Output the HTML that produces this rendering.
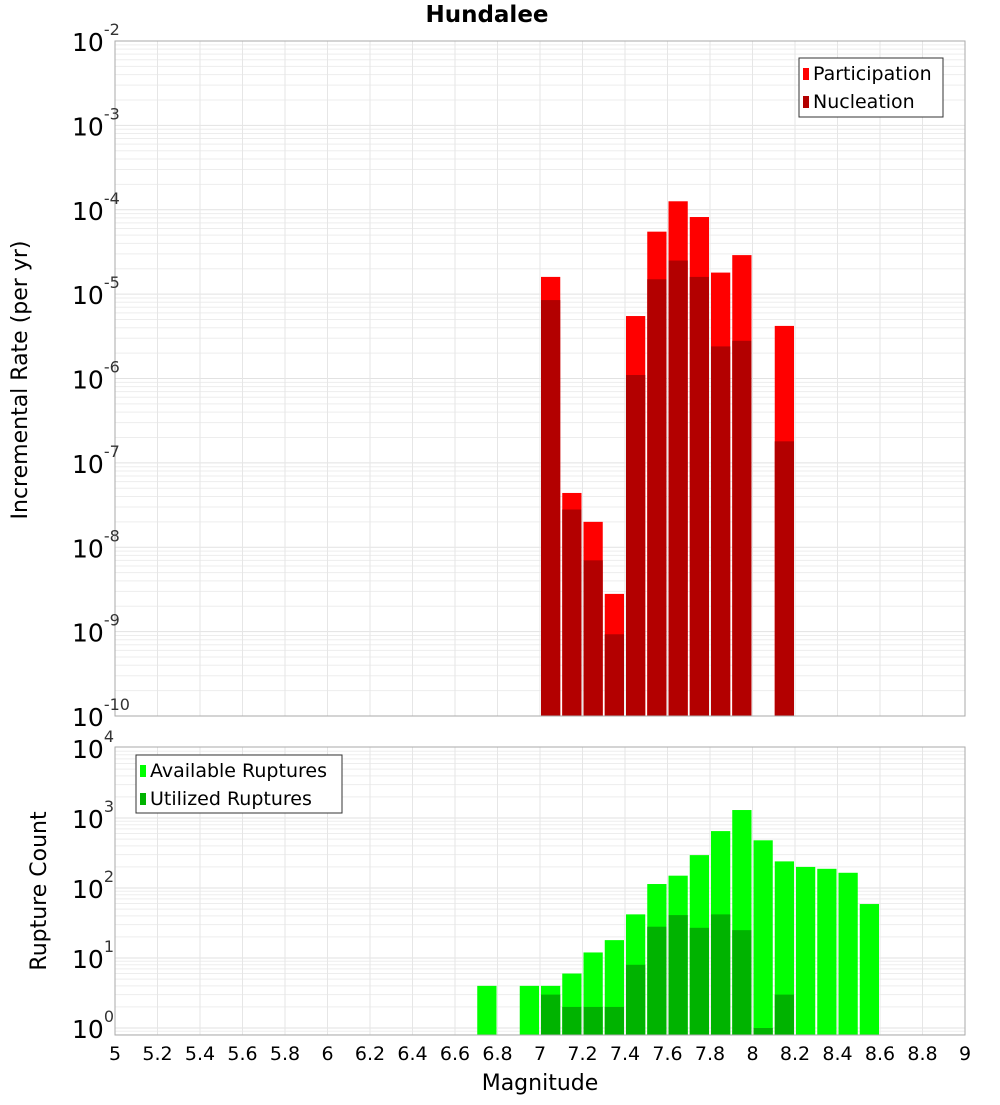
<!DOCTYPE html>
<html><head><meta charset="utf-8"><style>
body{margin:0;background:#fff;}
svg{font-family:"DejaVu Sans","Liberation Sans",sans-serif;}
</style></head><body>
<svg id="c" width="1000" height="1100" xmlns="http://www.w3.org/2000/svg"></svg>
<script>
const binCenters=[7.05,7.15,7.25,7.35,7.45,7.55,7.65,7.75,7.85,7.95,8.15];
const participation=[1.6e-5,4.4e-8,2.0e-8,2.8e-9,5.5e-6,5.5e-5,1.26e-4,8.2e-5,1.8e-5,2.9e-5,4.2e-6];
const nucleation=[8.5e-6,2.8e-8,7e-9,9.3e-10,1.1e-6,1.5e-5,2.5e-5,1.6e-5,2.4e-6,2.8e-6,1.8e-7];
const countCenters=[6.75,6.95,7.05,7.15,7.25,7.35,7.45,7.55,7.65,7.75,7.85,7.95,8.05,8.15,8.25,8.35,8.45,8.55];
const available=[4,4,4,6,12,18,42,114,150,295,650,1300,480,240,200,188,165,59];
const utilized=[0,0,3,2,2,2,8,28,41,27,42,25,1,3,0,0,0,0];
const xTicks=[5,5.2,5.4,5.6,5.8,6,6.2,6.4,6.6,6.8,7,7.2,7.4,7.6,7.8,8,8.2,8.4,8.6,8.8,9];
const topExps=[-10,-9,-8,-7,-6,-5,-4,-3,-2];
const botExps=[0,1,2,3,4];

const svg=document.getElementById('c');
const NS='http://www.w3.org/2000/svg';
function mk(t,a,p){const e=document.createElementNS(NS,t);for(const k in a)e.setAttribute(k,a[k]);(p||svg).appendChild(e);return e;}
const X0=115,X1=965;
const x=v=>X0+(v-5)/4*(X1-X0);
const T0=41,T1=716;
const yTop=v=>T1-(Math.log10(v)+10)/8*(T1-T0);
const B0=747,B1=1035;
const yBot=v=>1028-Math.log10(v)*70;

function grid(top,bot,exps,yf,name){
  const g=mk('g',{});
  
  
  for(let i=0;i<exps.length;i++){
    for(let m=1;m<10;m++){
      const v=m*Math.pow(10,exps[i]);const yy=yf(v);
      if(yy<top-0.5||yy>bot+0.5)continue;
      mk('line',{x1:X0,x2:X1,y1:yy,y2:yy,stroke:m==1?'#e2e2e2':'#ededed','stroke-width':1},g);
    }
  }
  xTicks.forEach(t=>mk('line',{x1:x(t),x2:x(t),y1:top,y2:bot,stroke:'#e6e6e6','stroke-width':1},g));
}
grid(T0,T1,topExps,yTop,'top');
grid(B0,B1,[-1,0,1,2,3],yBot,'bottom');

const bw=x(5.1)-x(5)-2;
binCenters.forEach((c,i)=>{
  let r=mk('rect',{x:x(c)-bw/2,y:yTop(participation[i]),width:bw,height:T1-yTop(participation[i]),fill:'#ff0000'});
  
  
  r=mk('rect',{x:x(c)-bw/2,y:yTop(nucleation[i]),width:bw,height:T1-yTop(nucleation[i]),fill:'#b30000'});
  
  
});
countCenters.forEach((c,i)=>{
  let r=mk('rect',{x:x(c)-bw/2,y:yBot(available[i]),width:bw,height:B1-yBot(available[i]),fill:'#00ff00'});
  
  
  if(utilized[i]>0){
    r=mk('rect',{x:x(c)-bw/2,y:yBot(utilized[i]),width:bw,height:B1-yBot(utilized[i]),fill:'#00b300'});
    
    
  }
});
mk('rect',{x:X0,y:T0,width:X1-X0,height:T1-T0,fill:'none',stroke:'#aaa'});
mk('rect',{x:X0,y:B0,width:X1-X0,height:B1-B0,fill:'none',stroke:'#aaa'});

function expLabel(yy,e,name){
  const t=mk('text',{x:72,y:yy+10,'text-anchor':'start','font-size':25,fill:'#000'});
  
  
  const b=mk('tspan',{},t);b.textContent='10';
  const s=mk('tspan',{dy:-16,'font-size':16,fill:'#333'},t);s.textContent=String(e);
}
topExps.forEach(e=>expLabel(yTop(Math.pow(10,e)),e,'y-tick-label'));
botExps.forEach(e=>expLabel(yBot(Math.pow(10,e)),e,'y2-tick-label'));
xTicks.forEach(t=>{
  const e=mk('text',{x:x(t),y:1060,'text-anchor':'middle','font-size':19,fill:'#000'});
  
  
  e.textContent=String(t);
});
function txt(s,a,name){const e=mk('text',a);e.textContent=s;return e;}
txt('Hundalee',{x:487,y:22,'text-anchor':'middle','font-size':23,'font-weight':'bold'},'chart-title');
txt('Magnitude',{x:540,y:1090,'text-anchor':'middle','font-size':22},'x-axis-title');
txt('Incremental Rate (per yr)',{x:27,y:380,'text-anchor':'middle','font-size':22,transform:'rotate(-90 27 380)'},'y-axis-title');
txt('Rupture Count',{x:46,y:891,'text-anchor':'middle','font-size':22,transform:'rotate(-90 46 891)'},'y2-axis-title');

function legend(bx,by,w,h,items,name){
  const g=mk('g',{});
  
  
  mk('rect',{x:bx,y:by,width:w,height:h,fill:'#fff',stroke:'#333'},g);
  items.forEach((it,i)=>{
    mk('rect',{x:bx+4,y:by+10+i*28,width:6,height:12,fill:it[1]},g);
    const t=mk('text',{x:bx+14,y:by+22+i*28,'font-size':19},g);t.textContent=it[0];
  });
}
legend(799,58,144,59,[['Participation','#ff0000'],['Nucleation','#b30000']],'top-legend');
legend(136,755,206,58,[['Available Ruptures','#00ff00'],['Utilized Ruptures','#00b300']],'bottom-legend');
</script>
</body></html>
